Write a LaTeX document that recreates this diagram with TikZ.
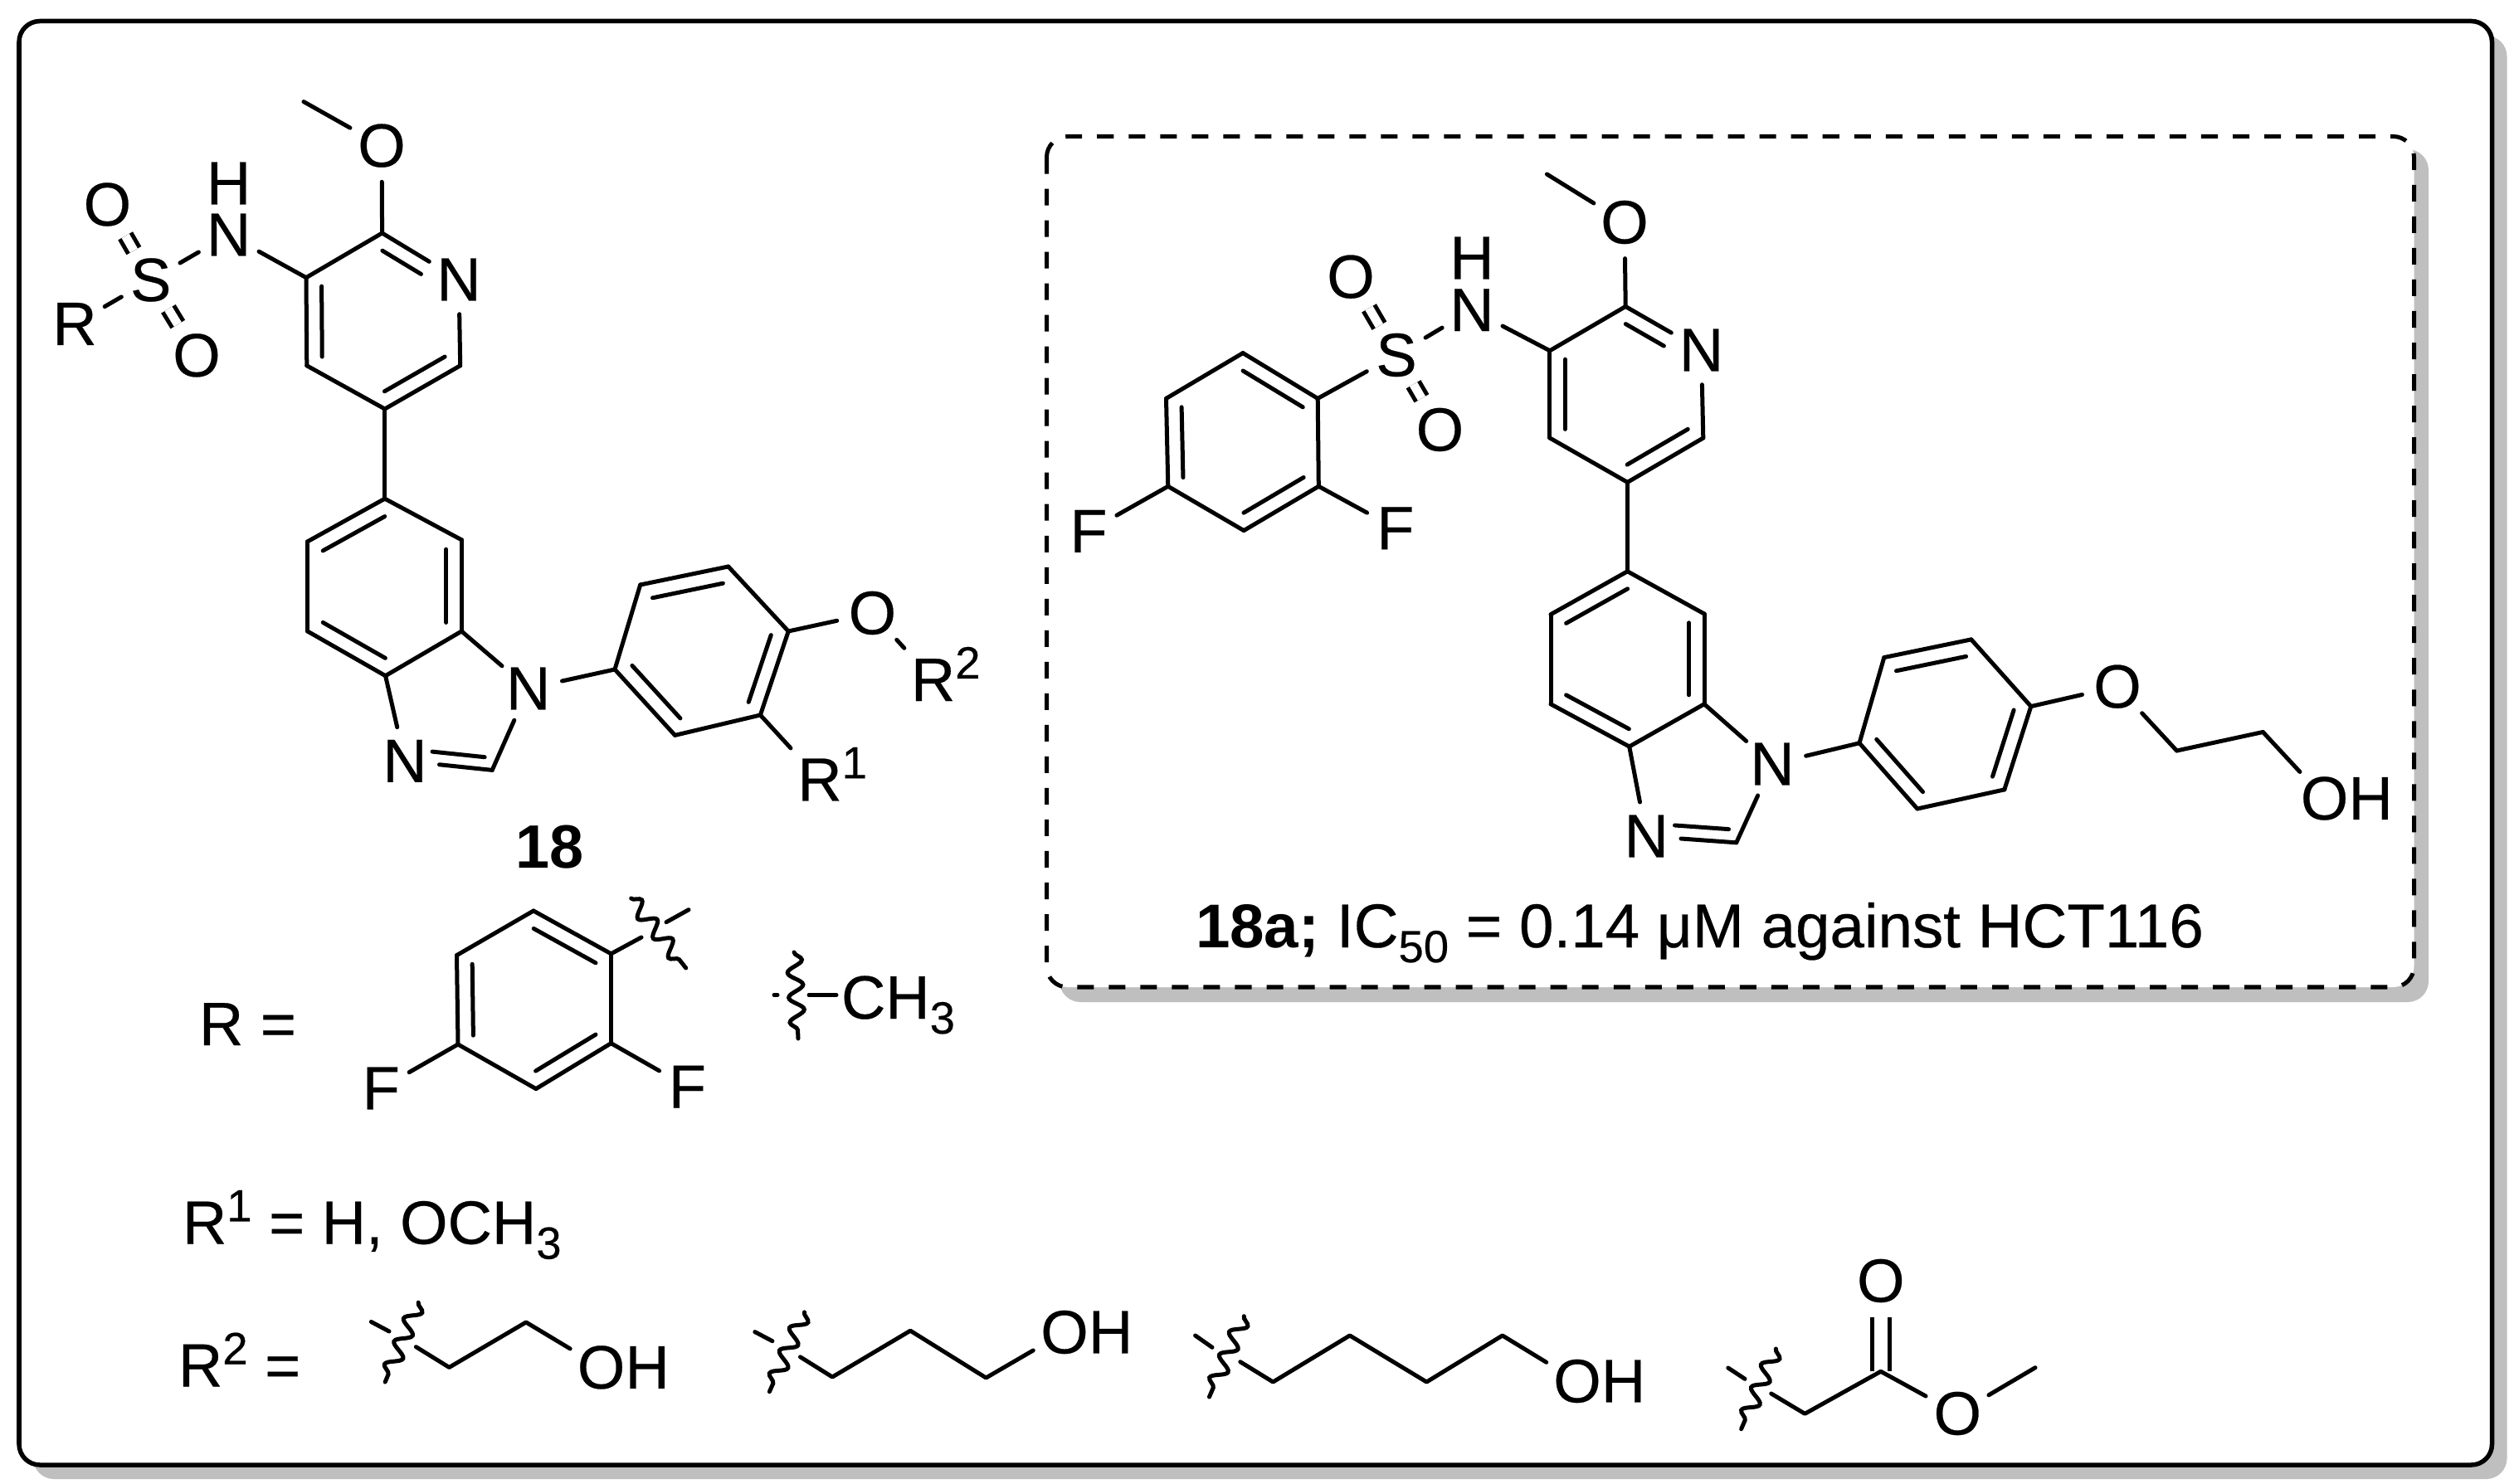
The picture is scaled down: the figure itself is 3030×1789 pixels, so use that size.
\documentclass[tikz,border=0pt]{standalone}
\usepackage{fontspec}
\setmainfont{Liberation Sans}[FakeBold=0.35,BoldFeatures={FakeBold=0}]
\usetikzlibrary{calc,decorations.pathmorphing}
\definecolor{shade}{HTML}{BFBFBF}
\newcommand\hi[1]{\raisebox{.27cm}{\fontsize{15.5}{16}\selectfont #1}}
\newcommand\lo[1]{\raisebox{-.18cm}{\fontsize{15.5}{16}\selectfont #1}}
\newcommand\Rh[1]{R\rlap{\smash{\hi{#1}}}}
% inner stroke of a ring double bond: ends a,b; ring centre; start and end fraction
\newcommand\inr[5]{\draw[bond] ($($(#1)!.2!(#3)$)!#4!($(#2)!.2!(#3)$)$) -- ($($(#1)!.2!(#3)$)!#5!($(#2)!.2!(#3)$)$);}
\newcommand\inrr[3]{\inr{#1}{#2}{#3}{0}{1}}
\tikzset{
  bond/.style={line width=.05cm,line cap=round,line join=round},
  sodbl/.style={line width=.05cm,double,double distance=.105cm},
  codbl/.style={line width=.05cm,double,double distance=.165cm},
  squig/.style={line width=.05cm,line cap=round,decorate,decoration={snake,segment length=.3cm,amplitude=.09cm}},
  atom/.style={circle,inner sep=1pt,outer sep=0pt},
  txt/.style={inner sep=0pt,outer sep=0pt},
  lab/.style={inner sep=0pt,outer sep=0pt,anchor=base west},
  frame/.style={line width=.055cm,rounded corners=.25cm,fill=white},
  shadow/.style={fill=shade,draw=none,rounded corners=.25cm},
  dashbox/.style={line width=.05cm,rounded corners=.25cm,fill=white,dash pattern=on .2cm off .18cm}
}
\begin{document}
\begin{tikzpicture}[x=.01cm,y=-.01cm,font=\fontsize{21}{25}\selectfont]
\useasboundingbox (0,0) rectangle (3030,1789);
\fill[white] (0,0) rectangle (3030,1789);
% frames
\path[shadow] (40,43) rectangle (3021.5,1783);
\draw[frame] (23,25.5) rectangle (3003.5,1766);
\path[shadow] (1277,180) rectangle (2927,1208);
\draw[dashbox] (1261.5,164.5) rectangle (2909.5,1190);

%%% ---------- compound 18 ----------
\node[atom] (aOme) at (460,175.6) {O};
\coordinate (aMe) at (366,122.6);
\coordinate (aC2) at (460.6,281);
\coordinate (aC3) at (369,334.7);
\coordinate (aC4) at (369.8,440.8);
\coordinate (aC5) at (463.8,493);
\coordinate (aC6) at (554.7,440.8);
\node[atom] (aN) at (553,337) {N};
\node[atom] (aNH) at (275.5,283) {N};
\node[txt] (aH) at (275.5,221) {H};
\node[atom] (aS) at (181.7,337.5) {S};
\node[atom] (aO1) at (129.4,246.5) {O};
\node[atom] (aO2) at (237,428.4) {O};
\node[atom] (aR) at (90,390.5) {R};
\coordinate (aPy) at (462,387);
\coordinate (bA) at (463.8,601.2);
\coordinate (bB) at (556.3,650.8);
\coordinate (bC) at (556.3,761);
\coordinate (bD) at (464.6,814.7);
\coordinate (bE) at (370.6,761);
\coordinate (bF) at (370.6,652.9);
\coordinate (bCen) at (463.5,708);
\node[atom] (aN1) at (636.7,830) {N};
\coordinate (aC8) at (593.2,928.4);
\node[atom] (aN3) at (488,917.4) {N};
\coordinate (aIm) at (548,850);
\coordinate (cA) at (741,807);
\coordinate (cB) at (771.7,705);
\coordinate (cC) at (877.8,683);
\coordinate (cD) at (950.2,761);
\coordinate (cE) at (916.4,862);
\coordinate (cF) at (813.5,886.4);
\coordinate (cCen) at (845.5,784);
\node[atom] (aOr) at (1051.4,739) {O};
\node[atom,inner sep=3pt] (aR2) at (1124.6,819.6) {\Rh{2}};
\node[atom,inner sep=3pt] (aR1) at (988,940) {\Rh{1}};
\node[txt] (a18) at (663,1020.6) {\textbf{18}};
\draw[sodbl] (aS) -- (aO1);
\draw[sodbl] (aS) -- (aO2);
\draw[bond] (aMe) -- (aOme);
\draw[bond] (aOme) -- (aC2);
\draw[bond] (aC2) -- (aN);
\draw[bond] (aN) -- (aC6);
\draw[bond] (aC6) -- (aC5);
\draw[bond] (aC5) -- (aC4);
\draw[bond] (aC4) -- (aC3);
\draw[bond] (aC3) -- (aC2);
\draw[bond] (aC3) -- (aNH);
\draw[bond] (aNH) -- (aS);
\draw[bond] (aS) -- (aR);
\draw[bond] (aC5) -- (bA);
\draw[bond] (bA) -- (bB);
\draw[bond] (bB) -- (bC);
\draw[bond] (bC) -- (bD);
\draw[bond] (bD) -- (bE);
\draw[bond] (bE) -- (bF);
\draw[bond] (bF) -- (bA);
\draw[bond] (bC) -- (aN1);
\draw[bond] (aN1) -- (aC8);
\draw[bond] (aC8) -- (aN3);
\draw[bond] (aN3) -- (bD);
\draw[bond] (aN1) -- (cA);
\draw[bond] (cA) -- (cB);
\draw[bond] (cB) -- (cC);
\draw[bond] (cC) -- (cD);
\draw[bond] (cD) -- (cE);
\draw[bond] (cE) -- (cF);
\draw[bond] (cF) -- (cA);
\draw[bond] (cD) -- (aOr);
\draw[bond] (aOr) -- (aR2);
\draw[bond] (cE) -- (aR1);
\inr{aC2}{aN}{aPy}{0}{.63}
\inrr{aC3}{aC4}{aPy}
\inrr{aC5}{aC6}{aPy}
\inrr{bA}{bF}{bCen}
\inrr{bB}{bC}{bCen}
\inrr{bD}{bE}{bCen}
\inr{aC8}{aN3}{aIm}{0}{.75}
\inrr{cA}{cF}{cCen}
\inrr{cB}{cC}{cCen}
\inrr{cD}{cE}{cCen}

%%% ---------- compound 18a ----------
\node[atom] (dOme) at (1958,268) {O};
\coordinate (dMe) at (1864.4,210);
\coordinate (dC2) at (1959.2,369.5);
\coordinate (dC3) at (1867.9,422.8);
\coordinate (dC4) at (1867.9,528);
\coordinate (dC5) at (1961.5,581.4);
\coordinate (dC6) at (2052.8,528);
\node[atom] (dN) at (2050.5,422) {N};
\coordinate (dPy) at (1960,475);
\node[atom] (dNH) at (1774,373.7) {N};
\node[txt] (dH) at (1774,311) {H};
\node[atom] (dS) at (1683,428) {S};
\node[atom] (dO1) at (1628,333.7) {O};
\node[atom] (dO2) at (1735.4,518) {O};
\coordinate (eA) at (1588.2,480.4);
\coordinate (eB) at (1498,425.6);
\coordinate (eC) at (1405.5,480.4);
\coordinate (eD) at (1407.8,586.3);
\coordinate (eE) at (1499.1,639.6);
\coordinate (eF) at (1589.3,586.3);
\coordinate (eCen) at (1498.5,532.6);
\node[atom] (eF1) at (1312,640.4) {F};
\node[atom] (eF2) at (1681.8,636.8) {F};
\coordinate (fA) at (1961.5,688.8);
\coordinate (fB) at (2054,740);
\coordinate (fC) at (2054,848.8);
\coordinate (fD) at (1963.7,900);
\coordinate (fE) at (1869,848.8);
\coordinate (fF) at (1869,740.7);
\coordinate (fCen) at (1962,794);
\node[atom] (dN1) at (2136,921) {N};
\coordinate (dC8) at (2092.7,1015.8);
\node[atom] (dN3) at (1984.3,1008) {N};
\coordinate (dIm) at (2047,935);
\coordinate (gA) at (2241,895.8);
\coordinate (gB) at (2270.8,792.6);
\coordinate (gC) at (2375.8,770.9);
\coordinate (gD) at (2447.8,851.6);
\coordinate (gE) at (2415.8,951.9);
\coordinate (gF) at (2310.8,975);
\coordinate (gCen) at (2344.4,873.3);
\node[atom] (dOr) at (2552,827.7) {O};
\coordinate (dCa) at (2623.5,905);
\coordinate (dCb) at (2727.4,882.5);
\node[atom] (dOH) at (2801.6,962.5) {O};
\node[txt] (dOHh) at (2857.1,962.5) {H};
\node[lab,font=\fontsize{21.2}{25}\selectfont] (dLab) at (1441,1142) {\textbf{18a;} IC\lo{50} = 0.14 μM against HCT116};
\draw[sodbl] (dS) -- (dO1);
\draw[sodbl] (dS) -- (dO2);
\draw[bond] (dMe) -- (dOme);
\draw[bond] (dOme) -- (dC2);
\draw[bond] (dC2) -- (dN);
\draw[bond] (dN) -- (dC6);
\draw[bond] (dC6) -- (dC5);
\draw[bond] (dC5) -- (dC4);
\draw[bond] (dC4) -- (dC3);
\draw[bond] (dC3) -- (dC2);
\draw[bond] (dC3) -- (dNH);
\draw[bond] (dNH) -- (dS);
\draw[bond] (dS) -- (eA);
\draw[bond] (eA) -- (eB);
\draw[bond] (eB) -- (eC);
\draw[bond] (eC) -- (eD);
\draw[bond] (eD) -- (eE);
\draw[bond] (eE) -- (eF);
\draw[bond] (eF) -- (eA);
\draw[bond] (eD) -- (eF1);
\draw[bond] (eF) -- (eF2);
\draw[bond] (dC5) -- (fA);
\draw[bond] (fA) -- (fB);
\draw[bond] (fB) -- (fC);
\draw[bond] (fC) -- (fD);
\draw[bond] (fD) -- (fE);
\draw[bond] (fE) -- (fF);
\draw[bond] (fF) -- (fA);
\draw[bond] (fC) -- (dN1);
\draw[bond] (dN1) -- (dC8);
\draw[bond] (dC8) -- (dN3);
\draw[bond] (dN3) -- (fD);
\draw[bond] (dN1) -- (gA);
\draw[bond] (gA) -- (gB);
\draw[bond] (gB) -- (gC);
\draw[bond] (gC) -- (gD);
\draw[bond] (gD) -- (gE);
\draw[bond] (gE) -- (gF);
\draw[bond] (gF) -- (gA);
\draw[bond] (gD) -- (dOr);
\draw[bond] (dOr) -- (dCa);
\draw[bond] (dCa) -- (dCb);
\draw[bond] (dCb) -- (dOH);
\inr{dC2}{dN}{dPy}{0}{.63}
\inrr{dC3}{dC4}{dPy}
\inrr{dC5}{dC6}{dPy}
\inrr{eA}{eB}{eCen}
\inrr{eC}{eD}{eCen}
\inrr{eE}{eF}{eCen}
\inrr{fA}{fF}{fCen}
\inrr{fB}{fC}{fCen}
\inrr{fD}{fE}{fCen}
\inr{dC8}{dN3}{dIm}{0}{.75}
\inrr{gA}{gF}{gCen}
\inrr{gB}{gC}{gCen}
\inrr{gD}{gE}{gCen}

%%% ---------- R = ----------
\node[lab] (rLab) at (240,1260) {R =};
\coordinate (hA) at (736.5,1149.8);
\coordinate (hB) at (643,1098);
\coordinate (hC) at (550.5,1151.6);
\coordinate (hD) at (552,1259);
\coordinate (hE) at (646,1312.6);
\coordinate (hF) at (736.5,1257.7);
\coordinate (hCen) at (644,1205);
\node[atom] (hF1) at (459.3,1312) {F};
\node[atom] (hF2) at (828.4,1310.2) {F};
\coordinate (hW1) at (760.7,1083);
\coordinate (hW2) at (826.7,1167);
\coordinate (hT1) at (773,1130);
\coordinate (hT2) at (803,1111.7);
\coordinate (hT3) at (830,1096.7);
\draw[bond] (hA) -- (hB);
\draw[bond] (hB) -- (hC);
\draw[bond] (hC) -- (hD);
\draw[bond] (hD) -- (hE);
\draw[bond] (hE) -- (hF);
\draw[bond] (hF) -- (hA);
\draw[bond] (hD) -- (hF1);
\draw[bond] (hF) -- (hF2);
\draw[bond] (hA) -- (hT1);
\draw[bond] (hT2) -- (hT3);
\draw[squig] (hW1) -- (hW2);
\inrr{hA}{hB}{hCen}
\inrr{hC}{hD}{hCen}
\inrr{hE}{hF}{hCen}
\coordinate (mW1) at (957,1148);
\coordinate (mW2) at (962,1252);
\coordinate (mD1) at (933,1199.3);
\coordinate (mD2) at (937,1199.3);
\coordinate (mD3) at (975,1199.5);
\node[lab] (mCH) at (1014,1228) {CH\lo{3}};
\coordinate (mD4) at (1008,1199.5);
\draw[squig] (mW1) -- (mW2);
\draw[bond] (mD1) -- (mD2);
\draw[bond] (mD3) -- (mD4);

%%% ---------- R1 ----------
\node[lab] (r1Lab) at (220,1499.5) {R\hi{1} = H, OCH\lo{3}};

%%% ---------- R2 ----------
\node[lab] (r2Lab) at (215,1671.6) {R\hi{2} =};
% hydroxyethyl
\coordinate (iW1) at (504.2,1570.2);
\coordinate (iW2) at (464.2,1666);
\coordinate (iT1) at (447.4,1593.5);
\coordinate (iT2) at (469,1605);
\coordinate (iB) at (501.4,1623.7);
\coordinate (iC) at (541.4,1648.4);
\coordinate (iD) at (634,1594);
\node[atom] (iO) at (724.6,1648.4) {O};
\node[txt] (iH) at (780.1,1648.4) {H};
\draw[squig] (iW1) -- (iW2);
\draw[bond] (iT1) -- (iT2);
\draw[bond] (iB) -- (iC) -- (iD) -- (iO);
% hydroxypropyl
\coordinate (jW1) at (969.5,1581.9);
\coordinate (jW2) at (927.4,1677.7);
\coordinate (jT1) at (909.8,1605.6);
\coordinate (jT2) at (930.9,1616.7);
\coordinate (jB) at (964.5,1635.8);
\coordinate (jC) at (1003.2,1660);
\coordinate (jD) at (1097.2,1604.2);
\coordinate (jE) at (1188.4,1661);
\node[atom] (jO) at (1283,1606) {O};
\node[txt] (jH) at (1338.5,1606) {H};
\draw[squig] (jW1) -- (jW2);
\draw[bond] (jT1) -- (jT2);
\draw[bond] (jB) -- (jC) -- (jD) -- (jE) -- (jO);
% hydroxybutyl
\coordinate (kW1) at (1499.3,1586.7);
\coordinate (kW2) at (1457.5,1684);
\coordinate (kT1) at (1440.6,1610);
\coordinate (kT2) at (1461,1624.3);
\coordinate (kB) at (1494.8,1641.7);
\coordinate (kC) at (1534.3,1666);
\coordinate (kD) at (1626.8,1610);
\coordinate (kE) at (1719.4,1666);
\coordinate (kF) at (1810.8,1610);
\node[atom] (kO) at (1901,1665) {O};
\node[txt] (kH) at (1956.5,1665) {H};
\draw[squig] (kW1) -- (kW2);
\draw[bond] (kT1) -- (kT2);
\draw[bond] (kB) -- (kC) -- (kD) -- (kE) -- (kF) -- (kO);
% methyl ester
\coordinate (lW1) at (2140.4,1626);
\coordinate (lW2) at (2098.6,1722.7);
\coordinate (lT1) at (2082.8,1649);
\coordinate (lT2) at (2103,1662.3);
\coordinate (lB) at (2134.7,1680);
\coordinate (lC) at (2175.3,1704.3);
\coordinate (lD) at (2266.8,1653.3);
\node[atom] (lO1) at (2266.8,1544) {O};
\node[atom] (lO2) at (2359.3,1704) {O};
\coordinate (lMe) at (2453,1648.7);
\draw[codbl] (lD) -- (lO1);
\draw[squig] (lW1) -- (lW2);
\draw[bond] (lT1) -- (lT2);
\draw[bond] (lB) -- (lC) -- (lD) -- (lO2) -- (lMe);
\end{tikzpicture}
\end{document}
